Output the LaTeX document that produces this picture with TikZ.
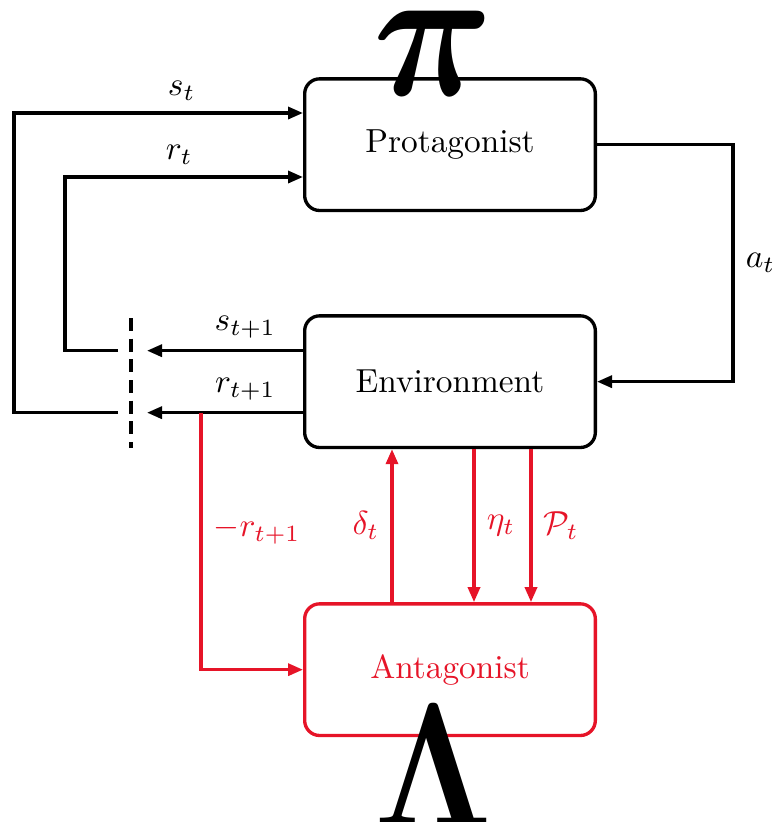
\documentclass[tikz,border=0pt]{standalone}
\usepackage{amsmath}
\usepackage{bm}
\usetikzlibrary{arrows.meta,positioning}
\definecolor{advred}{RGB}{230,20,40}

\begin{document}
\begin{tikzpicture}[
  x=1pt, y=1pt,
  font=\normalsize,
  node distance=30.6pt,
  agent/.style={draw, rounded corners=4.5pt, line width=1pt, inner sep=0pt,
               minimum width=87.2pt, minimum height=39.5pt},
  adv/.style={agent, draw=advred, text=advred},
  arr/.style={-{Triangle[length=4.5pt,width=3.6pt]}, line width=1pt},
  advarr/.style={arr, color=advred},
  cut/.style={dash pattern=on 3.9pt off 2.3pt, line width=1pt},
  sym/.style={inner sep=0pt}
]
\useasboundingbox (0,0) rectangle (232.2,-246.6);
\node[agent] (prot) at (135,-43.4) {Protagonist};
\node[agent, below=of prot] (env) {Environment};
\node[adv, below=45.9pt of env] (ant) {Antagonist};
\node[sym, anchor=base] (pi) at ([xshift=-5pt,yshift=-5.5pt]prot.north) {\scalebox{5.0}[5.7]{$\boldsymbol{\pi}$}};
\node[sym, anchor=north] (lam) at ([xshift=-4.8pt,yshift=9.9pt]ant.south) {\scalebox{4.4}[5.3]{$\boldsymbol{\Lambda}$}};
\coordinate (stip) at (44.1,-105.2);
\coordinate (rtip) at (44.1,-123.8);
\coordinate (sback) at (35.4,-105.2);
\coordinate (rback) at (35.4,-123.8);
\coordinate (cuttop) at (39.3,-95.4);
\coordinate (cutbot) at (39.3,-134.4);
\coordinate (split) at (60.3,-123.8);
\draw[arr] ([yshift=9.3pt]env.west) -- node[above, pos=0.37] {$s_{t+1}$} (stip);
\draw[arr] ([yshift=-9.3pt]env.west) -- node[above, pos=0.37] {$r_{t+1}$} (rtip);
\draw[cut] (cuttop) -- (cutbot);
\draw[arr] (rback) -- ++(-31.2,0) |- node[above, pos=0.79] {$s_t$} ([yshift=9.5pt]prot.west);
\draw[arr] (sback) -- ++(-15.9,0) |- node[above, pos=0.74] {$r_t$} ([yshift=-9.7pt]prot.west);
\draw[arr] (prot.east) -- ++(40.8,0) |- node[right, pos=0.25] {$a_t$} (env.east);
\draw[advarr] (split) |- node[right, pos=0.23] {$-r_{t+1}$} (ant.west);
\draw[advarr] ([xshift=-17.4pt]ant.north) -- node[left] {$\delta_t$} ([xshift=-17.4pt]env.south);
\draw[advarr] ([xshift=7.2pt]env.south) -- node[right] {$\eta_t$} ([xshift=7.2pt]ant.north);
\draw[advarr] ([xshift=24.3pt]env.south) -- node[right] {$\mathcal{P}_t$} ([xshift=24.3pt]ant.north);
\end{tikzpicture}
\end{document}
